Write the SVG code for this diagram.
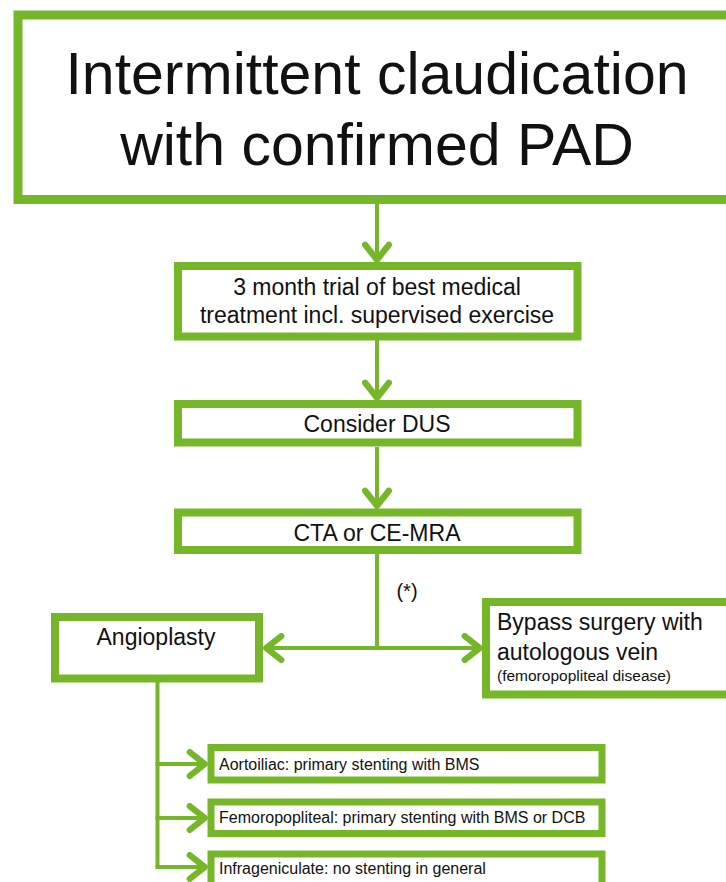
<svg xmlns="http://www.w3.org/2000/svg" width="726" height="882" viewBox="0 0 726 882">
<style>
.box{fill:#ffffff;stroke:#76b72a;stroke-width:8}
.sbox{fill:#ffffff;stroke:#76b72a;stroke-width:7}
.con{fill:none;stroke:#76b72a;stroke-width:4}
text{font-family:"Liberation Sans",Arial,sans-serif;fill:#111111}
.t23{font-size:23px}
.t16{font-size:16px}
</style>
<defs>
<marker id="arr" markerUnits="userSpaceOnUse" markerWidth="30" markerHeight="30" viewBox="-16 -12 20 24" refX="0" refY="0" orient="auto">
<path d="M-13,-9.5 L-1,0 L-13,9.5" fill="none" stroke="#76b72a" stroke-width="5" stroke-linecap="round" stroke-linejoin="round"/>
</marker>
</defs>
<rect width="726" height="882" fill="#ffffff"/>
<g id="connectors">
<line class="con" x1="377" y1="204" x2="377" y2="261" marker-end="url(#arr)"/>
<line class="con" x1="377" y1="340" x2="377" y2="399" marker-end="url(#arr)"/>
<line class="con" x1="377" y1="447" x2="377" y2="507" marker-end="url(#arr)"/>
<line class="con" x1="377" y1="554" x2="377" y2="648"/>
<line class="con" x1="377" y1="648" x2="265" y2="648" marker-end="url(#arr)"/>
<line class="con" x1="377" y1="648" x2="481" y2="648" marker-end="url(#arr)"/>
<line class="con" x1="157.5" y1="682" x2="157.5" y2="867"/>
<line class="con" x1="155.5" y1="764" x2="206" y2="764" marker-end="url(#arr)"/>
<line class="con" x1="155.5" y1="818" x2="206" y2="818" marker-end="url(#arr)"/>
<line class="con" x1="155.5" y1="867" x2="206" y2="867" marker-end="url(#arr)"/>
</g>
<g id="node-claudication">
<rect x="18" y="15" width="740" height="184.5" fill="#ffffff" stroke="#76b72a" stroke-width="9"/>
<text x="377" y="94" text-anchor="middle" font-size="59">Intermittent claudication</text>
<text x="377" y="165" text-anchor="middle" font-size="59">with confirmed PAD</text>
</g>
<g id="node-trial">
<rect class="box" x="178" y="266" width="399.5" height="70.5"/>
<text class="t23" x="377" y="295" text-anchor="middle">3 month trial of best medical</text>
<text class="t23" x="377" y="323" text-anchor="middle">treatment incl. supervised exercise</text>
</g>
<g id="node-dus">
<rect class="box" x="178" y="404" width="399.5" height="38.5"/>
<text class="t23" x="377" y="432" text-anchor="middle">Consider DUS</text>
</g>
<g id="node-cta">
<rect class="box" x="178" y="512.5" width="399.5" height="37.5"/>
<text class="t23" x="377" y="541" text-anchor="middle">CTA or CE-MRA</text>
</g>
<g id="label-star">
<text x="407" y="598" text-anchor="middle" font-size="20">(*)</text>
</g>
<g id="node-angioplasty">
<rect class="box" x="55" y="617" width="204" height="61.5"/>
<text class="t23" x="156" y="645" text-anchor="middle">Angioplasty</text>
</g>
<g id="node-bypass">
<rect class="box" x="486" y="602" width="260" height="92.5"/>
<text class="t23" x="497" y="630">Bypass surgery with</text>
<text class="t23" x="497" y="660">autologous vein</text>
<text x="497" y="681" font-size="15.5">(femoropopliteal disease)</text>
</g>
<g id="node-aortoiliac">
<rect class="sbox" x="211" y="747.5" width="391" height="32.5"/>
<text class="t16" x="219" y="770">Aortoiliac: primary stenting with BMS</text>
</g>
<g id="node-femoropopliteal">
<rect class="sbox" x="211" y="802" width="391" height="31.5"/>
<text class="t16" x="219" y="823">Femoropopliteal: primary stenting with BMS or DCB</text>
</g>
<g id="node-infrageniculate">
<rect class="sbox" x="211" y="854" width="391" height="40"/>
<text class="t16" x="219" y="874">Infrageniculate: no stenting in general</text>
</g>
</svg>
